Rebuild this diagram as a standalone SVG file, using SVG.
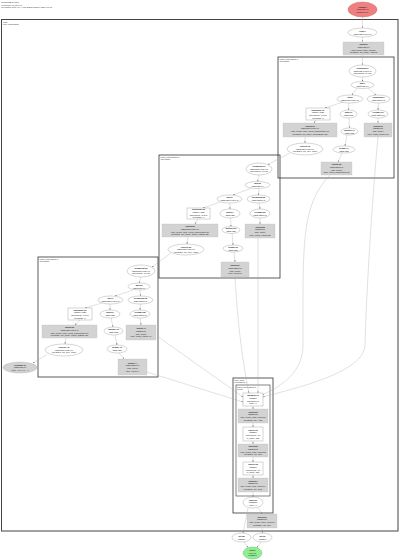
<svg xmlns="http://www.w3.org/2000/svg" width="400" height="560" viewBox="0 0 400 560">
<defs>
<style>
text{font-family:"Liberation Sans",Arial,sans-serif;font-size:2.1px;fill:#222}
.c{text-anchor:middle}
.b{font-weight:bold}
.hd{font-size:2.2px;fill:#333}
.cl{font-size:2px;fill:#333}
.we{fill:#fff;stroke:#888;stroke-width:0.35}
.wb{fill:#fff;stroke:#888;stroke-width:0.35}
.gb{fill:#d3d3d3;stroke:#bdbdbd;stroke-width:0.3}
.clu{fill:none;stroke:#333;stroke-width:0.8}
.e{fill:none;stroke:#a8a8a8;stroke-width:0.35;marker-end:url(#ah)}
</style>
<marker id="ah" viewBox="0 0 4 4" refX="4" refY="2" markerWidth="1.6" markerHeight="1.6" orient="auto" markerUnits="userSpaceOnUse"><path d="M0,0L4,2L0,4z" fill="#777"/></marker>
</defs>
<rect width="400" height="560" fill="#fff"/>
<g id="header"><text class="hd" x="1" y="3">Computation main</text><text class="hd" x="1" y="5.6">HloModule jit_step.46</text><text class="hd" x="1" y="8.2">Generated from XLA HLO graph dumper 2024-01-01</text></g>
<g id="clusters">
<rect x="1.5" y="19.5" width="396.5" height="511.5" fill="none" stroke="#444" stroke-width="1"/>
<text class="cl" x="3" y="22.5">main</text><text class="cl" x="3" y="24.8">entry computation</text>
<rect class="clu" x="278" y="57" width="116" height="121"/>
<text class="cl" x="279.5" y="59.8">fused_computation.1</text><text class="cl" x="279.5" y="62">loop fusion</text>
<rect class="clu" x="159" y="155" width="121" height="123"/>
<text class="cl" x="160.5" y="157.8">fused_computation.2</text><text class="cl" x="160.5" y="160">loop fusion</text>
<rect class="clu" x="38" y="257" width="120" height="120"/>
<text class="cl" x="39.5" y="259.8">fused_computation.3</text><text class="cl" x="39.5" y="262">loop fusion</text>
<rect class="clu" x="233" y="378" width="40" height="135"/>
<text class="cl" x="234.3" y="380.8">while_body</text><text class="cl" x="234.3" y="383">computation.4</text>
<rect x="236" y="385" width="34" height="111" fill="none" stroke="#333" stroke-width="0.6"/>
<text class="cl" x="237.2" y="387.6">fused_computation.5</text><text class="cl" x="237.2" y="389.8">kLoop</text>
</g>
<g id="connectors">
<path class="e" d="M362.5,17L362.5,28"/>
<path class="e" d="M362.5,37L362.5,42"/>
<path class="e" d="M362.5,55L362.5,65"/>
<path class="e" d="M362.5,77L362.5,81.5"/>
<path class="e" d="M357,88L352,95"/>
<path class="e" d="M368,88L376,95"/>
<path class="e" d="M343,102L325,108"/>
<path class="e" d="M349,103L348.5,110"/>
<path class="e" d="M378.5,103L378,110"/>
<path class="e" d="M316,120L314,123"/>
<path class="e" d="M349,118L349.5,128"/>
<path class="e" d="M378,118L378,123"/>
<path class="e" d="M305,137L305,143"/>
<path class="e" d="M347,135L345,146"/>
<path class="e" d="M342,153L338,162"/>
<path class="e" d="M290,153L268,164.5"/>
<path class="e" d="M259,175L257.5,181.5"/>
<path class="e" d="M252,188L233,195"/>
<path class="e" d="M259,188.5L258.5,195"/>
<path class="e" d="M220,202L203,208"/>
<path class="e" d="M230,203L230,209"/>
<path class="e" d="M259,203L260,209"/>
<path class="e" d="M198,219L195,224"/>
<path class="e" d="M230.5,218L231,226.5"/>
<path class="e" d="M260,218L260,224"/>
<path class="e" d="M188,237L187,244"/>
<path class="e" d="M232,233.5L233,245"/>
<path class="e" d="M234,252L235,262"/>
<path class="e" d="M171,253L152,267"/>
<path class="e" d="M141,277L139,283"/>
<path class="e" d="M133,290L115,296"/>
<path class="e" d="M140,290L140.5,296"/>
<path class="e" d="M102,303L85,308"/>
<path class="e" d="M110,304L110,310"/>
<path class="e" d="M140.5,304L140,310"/>
<path class="e" d="M80,320L75,325"/>
<path class="e" d="M111,318L113,327"/>
<path class="e" d="M140,318L141,325"/>
<path class="e" d="M66,338L65,344"/>
<path class="e" d="M115,335L117,345"/>
<path class="e" d="M119,353L124,359"/>
<path class="e" d="M47,354.5L33,363"/>
<path class="e" d="M378,137C372,200 366,300 365,345C364,372 300,387 263,397"/>
<path class="e" d="M330,175C306,200 303,230 303,300L303,345C303,372 282,386 262,395"/>
<path class="e" d="M258,238L258,393"/>
<path class="e" d="M235,277C238,330 244,370 249,393"/>
<path class="e" d="M157,336L243,397"/>
<path class="e" d="M147,372L243,402"/>
<path class="e" d="M253,406L253,409"/>
<path class="e" d="M253,423L253,427"/>
<path class="e" d="M253,441L253,444"/>
<path class="e" d="M253,457L253,462"/>
<path class="e" d="M253,475L253,478"/>
<path class="e" d="M253,492L253,497"/>
<path class="e" d="M248,508L243,533"/>
<path class="e" d="M258,507.5L262,514"/>
<path class="e" d="M262,528L262.5,533"/>
<path class="e" d="M244,542L248,547.5"/>
<path class="e" d="M261,542L257,547.5"/>
</g>
<g id="param0"><ellipse cx="362.5" cy="9.5" rx="14.5" ry="7.5" fill="#f08080" stroke="#c86060" stroke-width="0.4"/><text class="c" x="362.5" y="7.55"><tspan class="b" x="362.5">Param 0</tspan><tspan x="362.5" dy="2.7">f32[2,128,64]</tspan><tspan x="362.5" dy="2.7">parameter(0)</tspan></text></g>
<g id="copy1"><ellipse class="we" cx="362.5" cy="32.5" rx="14.5" ry="4.5"/><text class="c" x="362.5" y="31.9"><tspan class="b" x="362.5">copy.1</tspan><tspan x="362.5" dy="2.7">f32[2,128,64]{2,1,0}</tspan></text></g>
<g id="fusion2"><rect class="gb" x="343" y="42" width="41" height="13"/><text class="c" y="45.2"><tspan class="b" x="363.5">fusion.2</tspan><tspan x="363.5" dy="2.7">f32[2,128,64]</tspan><tspan x="363.5" dy="2.7">kind=kLoop, calls=fused.2</tspan><tspan x="363.5" dy="2.7">metadata={op_name=embed}</tspan></text></g>

<g id="r_broadcast6"><ellipse class="we" cx="362.5" cy="71" rx="13.5" ry="6"/><text class="c" y="69.05"><tspan class="b" x="362.5">broadcast.6</tspan><tspan x="362.5" dy="2.7">f32[2,128,64]{2,1,0}</tspan><tspan x="362.5" dy="2.7">dimensions={0,1,2}</tspan></text></g>
<g id="r_add7"><ellipse class="we" cx="362.5" cy="85" rx="11.5" ry="3.5"/><text class="c" y="84.4"><tspan class="b" x="362.5">add.7</tspan><tspan x="362.5" dy="2.7">f32[2,128,64]</tspan></text></g>
<g id="r_dot8"><ellipse class="we" cx="350" cy="99" rx="13" ry="4"/><text class="c" y="98.4"><tspan class="b" x="350">dot.8</tspan><tspan x="350" dy="2.7">f32[2,128,64]{2,1,0}</tspan></text></g>
<g id="r_broadcast9"><ellipse class="we" cx="378.5" cy="99" rx="11.5" ry="4"/><text class="c" y="98.4"><tspan class="b" x="378.5">broadcast.9</tspan><tspan x="378.5" dy="2.7">f32[2,128]{1,0}</tspan></text></g>
<g id="r_transpose10"><rect class="wb" x="306" y="108" width="24" height="12"/><text class="c" y="110.7"><tspan class="b" x="318">transpose.10</tspan><tspan x="318" dy="2.7">f32[2,64,128]</tspan><tspan x="318" dy="2.7">dimensions={0,2,1}</tspan><tspan x="318" dy="2.7">metadata={}</tspan></text></g>
<g id="r_tanh11"><ellipse class="we" cx="348.5" cy="114" rx="8.5" ry="4"/><text class="c" y="113.4"><tspan class="b" x="348.5">tanh.11</tspan><tspan x="348.5" dy="2.7">f32[2,128]</tspan></text></g>
<g id="r_reshape12"><ellipse class="we" cx="378" cy="114" rx="10" ry="4"/><text class="c" y="113.4"><tspan class="b" x="378">reshape.12</tspan><tspan x="378" dy="2.7">f32[2,128]{1,0}</tspan></text></g>
<g id="r_fusion13"><rect class="gb" x="283" y="123" width="54" height="14"/><text class="c" y="126.7"><tspan class="b" x="310">fusion.13</tspan><tspan x="310" dy="2.7">f32[2,128,64]{2,1,0}</tspan><tspan x="310" dy="2.7">kind=kLoop, calls=fused_computation.13</tspan><tspan x="310" dy="2.7">metadata={op_name=dense/BiasAdd}</tspan></text></g>
<g id="r_multiply14"><ellipse class="we" cx="349.5" cy="131.5" rx="8.5" ry="3.5"/><text class="c" y="130.9"><tspan class="b" x="349.5">multiply.14</tspan><tspan x="349.5" dy="2.7">f32[2,128]</tspan></text></g>
<g id="r_fusion15"><rect class="gb" x="364" y="123" width="28" height="14"/><text class="c" y="126.7"><tspan class="b" x="378">fusion.15</tspan><tspan x="378" dy="2.7">f32[256]{0}</tspan><tspan x="378" dy="2.7">kind=kInput</tspan><tspan x="378" dy="2.7">calls=fused_reduce.15</tspan></text></g>
<g id="r_convert16"><ellipse class="we" cx="305" cy="149" rx="18" ry="6"/><text class="c" y="147.05"><tspan class="b" x="305">convert.16</tspan><tspan x="305" dy="2.7">f32[2,128,64]{2,1,0}</tspan><tspan x="305" dy="2.7">metadata={op_type=Cast}</tspan></text></g>
<g id="r_negate17"><ellipse class="we" cx="344" cy="149.5" rx="11" ry="3.5"/><text class="c" y="148.9"><tspan class="b" x="344">negate.17</tspan><tspan x="344" dy="2.7">f32[2,128]</tspan></text></g>
<g id="r_fusion18"><rect class="gb" x="321" y="162" width="31" height="13"/><text class="c" y="165.2"><tspan class="b" x="336.5">fusion.18</tspan><tspan x="336.5" dy="2.7">f32[2,128]{1,0}</tspan><tspan x="336.5" dy="2.7">kind=kLoop</tspan><tspan x="336.5" dy="2.7">calls=fused_computation.18</tspan></text></g>

<g id="m_broadcast19"><ellipse class="we" cx="259" cy="169" rx="13" ry="6"/><text class="c" y="167.05"><tspan class="b" x="259">broadcast.19</tspan><tspan x="259" dy="2.7">f32[2,128,64]{2,1,0}</tspan><tspan x="259" dy="2.7">dimensions={0,1,2}</tspan></text></g>
<g id="m_add20"><ellipse class="we" cx="257.5" cy="185" rx="12.5" ry="3.5"/><text class="c" y="184.4"><tspan class="b" x="257.5">add.20</tspan><tspan x="257.5" dy="2.7">f32[2,128,64]</tspan></text></g>
<g id="m_dot21"><ellipse class="we" cx="229.5" cy="199" rx="12.5" ry="4"/><text class="c" y="198.4"><tspan class="b" x="229.5">dot.21</tspan><tspan x="229.5" dy="2.7">f32[2,128,64]{2,1,0}</tspan></text></g>
<g id="m_broadcast22"><ellipse class="we" cx="258.5" cy="199" rx="11.5" ry="4"/><text class="c" y="198.4"><tspan class="b" x="258.5">broadcast.22</tspan><tspan x="258.5" dy="2.7">f32[2,128]{1,0}</tspan></text></g>
<g id="m_transpose23"><rect class="wb" x="187" y="208" width="23" height="11"/><text class="c" y="210.2"><tspan class="b" x="198.5">transpose.23</tspan><tspan x="198.5" dy="2.7">f32[2,64,128]</tspan><tspan x="198.5" dy="2.7">dimensions={0,2,1}</tspan><tspan x="198.5" dy="2.7">metadata={}</tspan></text></g>
<g id="m_tanh24"><ellipse class="we" cx="230" cy="213.5" rx="10" ry="4.5"/><text class="c" y="212.9"><tspan class="b" x="230">tanh.24</tspan><tspan x="230" dy="2.7">f32[2,128]</tspan></text></g>
<g id="m_reshape25"><ellipse class="we" cx="260" cy="213.5" rx="10" ry="4.5"/><text class="c" y="212.9"><tspan class="b" x="260">reshape.25</tspan><tspan x="260" dy="2.7">f32[2,128]{1,0}</tspan></text></g>
<g id="m_fusion26"><rect class="gb" x="162" y="224" width="56" height="13"/><text class="c" y="227.2"><tspan class="b" x="190">fusion.26</tspan><tspan x="190" dy="2.7">f32[2,128,64]{2,1,0}</tspan><tspan x="190" dy="2.7">kind=kLoop, calls=fused_computation.26</tspan><tspan x="190" dy="2.7">metadata={op_name=dense_1/BiasAdd}</tspan></text></g>
<g id="m_multiply27"><ellipse class="we" cx="231" cy="230" rx="9" ry="3.5"/><text class="c" y="229.4"><tspan class="b" x="231">multiply.27</tspan><tspan x="231" dy="2.7">f32[2,128]</tspan></text></g>
<g id="m_fusion28"><rect class="gb" x="245" y="224" width="30" height="14"/><text class="c" y="227.7"><tspan class="b" x="260">fusion.28</tspan><tspan x="260" dy="2.7">f32[256]{0}</tspan><tspan x="260" dy="2.7">kind=kInput</tspan><tspan x="260" dy="2.7">calls=fused_reduce.28</tspan></text></g>
<g id="m_convert29"><ellipse class="we" cx="186" cy="249.5" rx="18" ry="5.5"/><text class="c" y="247.55"><tspan class="b" x="186">convert.29</tspan><tspan x="186" dy="2.7">f32[2,128,64]{2,1,0}</tspan><tspan x="186" dy="2.7">metadata={op_type=Cast}</tspan></text></g>
<g id="m_negate30"><ellipse class="we" cx="233" cy="248.5" rx="10" ry="3.5"/><text class="c" y="247.9"><tspan class="b" x="233">negate.30</tspan><tspan x="233" dy="2.7">f32[2,128]</tspan></text></g>
<g id="m_fusion31"><rect class="gb" x="221" y="262" width="28" height="15"/><text class="c" y="266.2"><tspan class="b" x="235">fusion.31</tspan><tspan x="235" dy="2.7">f32[2,128]{1,0}</tspan><tspan x="235" dy="2.7">kind=kLoop</tspan><tspan x="235" dy="2.7">calls=fused.31</tspan></text></g>

<g id="l_broadcast32"><ellipse class="we" cx="141" cy="271" rx="14" ry="6"/><text class="c" y="269.05"><tspan class="b" x="141">broadcast.32</tspan><tspan x="141" dy="2.7">f32[2,128,64]{2,1,0}</tspan><tspan x="141" dy="2.7">dimensions={0,1,2}</tspan></text></g>
<g id="l_add33"><ellipse class="we" cx="139" cy="286.5" rx="11" ry="3.5"/><text class="c" y="285.9"><tspan class="b" x="139">add.33</tspan><tspan x="139" dy="2.7">f32[2,128,64]</tspan></text></g>
<g id="l_dot34"><ellipse class="we" cx="110.5" cy="300" rx="12.5" ry="4"/><text class="c" y="299.4"><tspan class="b" x="110.5">dot.34</tspan><tspan x="110.5" dy="2.7">f32[2,128,64]{2,1,0}</tspan></text></g>
<g id="l_broadcast35"><ellipse class="we" cx="140.5" cy="300" rx="12.5" ry="4"/><text class="c" y="299.4"><tspan class="b" x="140.5">broadcast.35</tspan><tspan x="140.5" dy="2.7">f32[2,128]{1,0}</tspan></text></g>
<g id="l_transpose36"><rect class="wb" x="68" y="308" width="24" height="12"/><text class="c" y="310.7"><tspan class="b" x="80">transpose.36</tspan><tspan x="80" dy="2.7">f32[2,64,128]</tspan><tspan x="80" dy="2.7">dimensions={0,2,1}</tspan><tspan x="80" dy="2.7">metadata={}</tspan></text></g>
<g id="l_tanh37"><ellipse class="we" cx="110" cy="314" rx="10" ry="4"/><text class="c" y="313.4"><tspan class="b" x="110">tanh.37</tspan><tspan x="110" dy="2.7">f32[2,128]</tspan></text></g>
<g id="l_reshape38"><ellipse class="we" cx="140" cy="314" rx="10" ry="4"/><text class="c" y="313.4"><tspan class="b" x="140">reshape.38</tspan><tspan x="140" dy="2.7">f32[2,128]{1,0}</tspan></text></g>
<g id="l_fusion39"><rect class="gb" x="42" y="325" width="55" height="13"/><text class="c" y="328.2"><tspan class="b" x="69.5">fusion.39</tspan><tspan x="69.5" dy="2.7">f32[2,128,64]{2,1,0}</tspan><tspan x="69.5" dy="2.7">kind=kLoop, calls=fused_computation.39</tspan><tspan x="69.5" dy="2.7">metadata={op_name=dense_2/BiasAdd}</tspan></text></g>
<g id="l_multiply40"><ellipse class="we" cx="113.5" cy="331" rx="9.5" ry="4"/><text class="c" y="330.4"><tspan class="b" x="113.5">multiply.40</tspan><tspan x="113.5" dy="2.7">f32[2,128]</tspan></text></g>
<g id="l_fusion41"><rect class="gb" x="126" y="325" width="30" height="15"/><text class="c" y="329.2"><tspan class="b" x="141">fusion.41</tspan><tspan x="141" dy="2.7">f32[256]{0}</tspan><tspan x="141" dy="2.7">kind=kInput</tspan><tspan x="141" dy="2.7">calls=fused_reduce.41</tspan></text></g>
<g id="l_convert42"><ellipse class="we" cx="64" cy="350" rx="19" ry="6"/><text class="c" y="348.05"><tspan class="b" x="64">convert.42</tspan><tspan x="64" dy="2.7">f32[2,128,64]{2,1,0}</tspan><tspan x="64" dy="2.7">metadata={op_type=Cast}</tspan></text></g>
<g id="l_negate43"><ellipse class="we" cx="117" cy="349" rx="10" ry="4"/><text class="c" y="348.4"><tspan class="b" x="117">negate.43</tspan><tspan x="117" dy="2.7">f32[2,128]</tspan></text></g>
<g id="l_fusion44"><rect class="gb" x="118" y="359" width="29" height="16"/><text class="c" y="363.7"><tspan class="b" x="132.5">fusion.44</tspan><tspan x="132.5" dy="2.7">f32[2,128]{1,0}</tspan><tspan x="132.5" dy="2.7">kind=kLoop</tspan><tspan x="132.5" dy="2.7">calls=fused.44</tspan></text></g>

<g id="constant45"><ellipse cx="20" cy="367.5" rx="17" ry="5.5" fill="#d3d3d3" stroke="#aaa" stroke-width="0.35"/><text class="c" y="365.55"><tspan class="b" x="20">constant.45</tspan><tspan x="20" dy="2.7">f32[2,128,64]</tspan><tspan x="20" dy="2.7">value={0.0, 0.0, ...}</tspan></text></g>

<g id="b_param1"><rect class="wb" x="243" y="393" width="20" height="13"/><text class="c" y="396.2"><tspan class="b" x="253">parameter.1</tspan><tspan x="253" dy="2.7">f32[256]</tspan><tspan x="253" dy="2.7">parameter(0)</tspan><tspan x="253" dy="2.7">index=0</tspan></text></g>
<g id="b_fusion50"><rect class="gb" x="238" y="409" width="30" height="14"/><text class="c" y="412.7"><tspan class="b" x="253">fusion.50</tspan><tspan x="253" dy="2.7">f32[256]{0}</tspan><tspan x="253" dy="2.7">kind=kLoop, calls=fused.50</tspan><tspan x="253" dy="2.7">metadata={op=Add}</tspan></text></g>
<g id="b_reduce51"><rect class="wb" x="243" y="427" width="20" height="14"/><text class="c" y="430.7"><tspan class="b" x="253">reduce.51</tspan><tspan x="253" dy="2.7">f32[256]</tspan><tspan x="253" dy="2.7">dimensions={0}</tspan><tspan x="253" dy="2.7">to_apply=add</tspan></text></g>
<g id="b_fusion52"><rect class="gb" x="238" y="444" width="30" height="13"/><text class="c" y="447.2"><tspan class="b" x="253">fusion.52</tspan><tspan x="253" dy="2.7">f32[256]{0}</tspan><tspan x="253" dy="2.7">kind=kLoop, calls=fused.52</tspan><tspan x="253" dy="2.7">metadata={op=Mul}</tspan></text></g>
<g id="b_reduce53"><rect class="wb" x="243" y="462" width="20" height="13"/><text class="c" y="465.2"><tspan class="b" x="253">reduce.53</tspan><tspan x="253" dy="2.7">f32[256]</tspan><tspan x="253" dy="2.7">dimensions={0}</tspan><tspan x="253" dy="2.7">to_apply=add</tspan></text></g>
<g id="b_fusion54"><rect class="gb" x="238" y="478" width="30" height="14"/><text class="c" y="481.7"><tspan class="b" x="253">fusion.54</tspan><tspan x="253" dy="2.7">f32[256]{0}</tspan><tspan x="253" dy="2.7">kind=kLoop, calls=fused.54</tspan><tspan x="253" dy="2.7">metadata={op=Sub}</tspan></text></g>
<g id="tuple56"><ellipse class="we" cx="253" cy="502.5" rx="10" ry="5.5"/><text class="c" y="500.55"><tspan class="b" x="253">tuple.56</tspan><tspan x="253" dy="2.7">(f32[256])</tspan><tspan x="253" dy="2.7">index=0</tspan></text></g>
<g id="fusion57"><rect class="gb" x="247" y="514" width="30" height="14"/><text class="c" y="517.7"><tspan class="b" x="262">fusion.57</tspan><tspan x="262" dy="2.7">f32[256]{0}</tspan><tspan x="262" dy="2.7">kind=kLoop, calls=fused.57</tspan><tspan x="262" dy="2.7">metadata={op=Div}</tspan></text></g>
<g id="gte58"><ellipse class="we" cx="241.5" cy="537.5" rx="9.5" ry="4.5"/><text class="c" y="536.9"><tspan class="b" x="241.5">gte.58</tspan><tspan x="241.5" dy="2.7">f32[256]</tspan></text></g>
<g id="gte59"><ellipse class="we" cx="262.5" cy="537.5" rx="9.5" ry="4.5"/><text class="c" y="536.9"><tspan class="b" x="262.5">gte.59</tspan><tspan x="262.5" dy="2.7">f32[256]</tspan></text></g>
<g id="root60"><ellipse cx="252.5" cy="553" rx="9.5" ry="6" fill="#90ee90" stroke="#5cb85c" stroke-width="0.4"/><text class="c" y="551.05"><tspan class="b" x="252.5">ROOT</tspan><tspan x="252.5" dy="2.7">tuple.60</tspan><tspan x="252.5" dy="2.7">(f32[256])</tspan></text></g>
</svg>
